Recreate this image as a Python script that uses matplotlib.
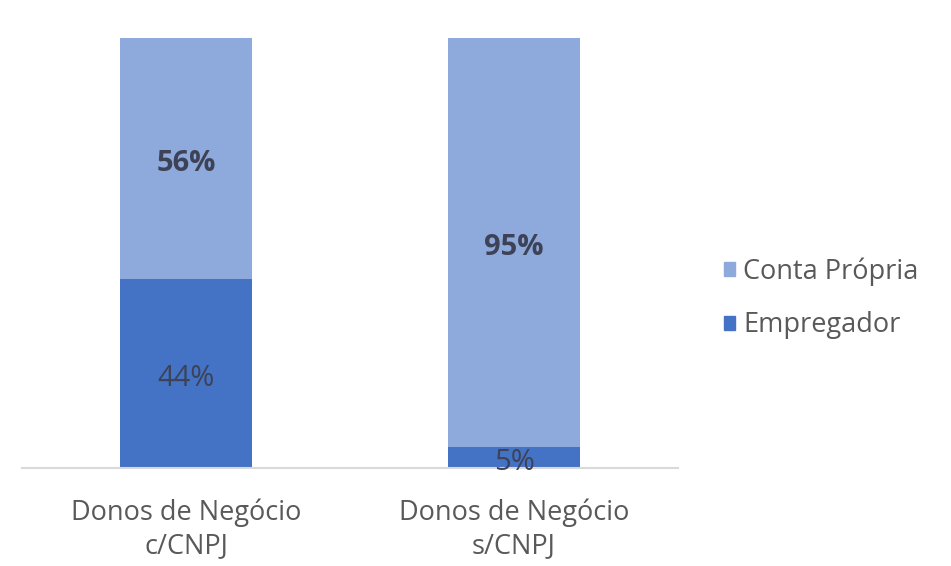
import matplotlib
matplotlib.use("Agg")
import matplotlib.pyplot as plt
from matplotlib.patches import Patch

categories = ["Donos de Negócio\nc/CNPJ", "Donos de Negócio\ns/CNPJ"]
empregador = [44, 5]
conta_propria = [56, 95]
series_names = ["Conta Própria", "Empregador"]

c_light = "#8EA9DB"
c_dark = "#4472C4"
txt = "#3d4256"

plt.rcParams['font.family'] = ['Open Sans', 'DejaVu Sans']

fig = plt.figure(figsize=(9.51, 5.66), dpi=100)
ax = fig.add_axes([22/951, 98/566, 656/951, 430/566])

x = list(range(len(categories)))
ax.bar(x, empregador, width=0.4, color=c_dark)
ax.bar(x, conta_propria, width=0.4, bottom=empregador, color=c_light)

off = -1.2
for i in x:
    ax.text(i, empregador[i] / 2 + off, f"{empregador[i]}%", ha="center", va="center",
            fontsize=21, color=txt)
    ax.text(i, empregador[i] + conta_propria[i] / 2 + off, f"{conta_propria[i]}%",
            ha="center", va="center", fontsize=21, color=txt, fontweight="bold")

ax.set_xlim(-0.5, 1.5)
ax.set_ylim(0, 100)
ax.set_yticks([])
ax.set_xticks(x)
ax.set_xticklabels(categories, fontsize=19.5, color="#595959", linespacing=1.25)
ax.tick_params(axis="x", length=0, pad=22)
for s in ["top", "left", "right"]:
    ax.spines[s].set_visible(False)
ax.spines["bottom"].set_color("#D9D9D9")
ax.spines["bottom"].set_linewidth(1.5)

handles = [Patch(color=c_light), Patch(color=c_dark)]
fig.legend(handles, series_names, loc="center left", bbox_to_anchor=(0.736, 0.473),
           frameon=False, fontsize=19.5, labelcolor="#595959", handlelength=0.4,
           handleheight=0.4, handletextpad=0.3, labelspacing=0.95)

fig.savefig("out.png", dpi=100)
